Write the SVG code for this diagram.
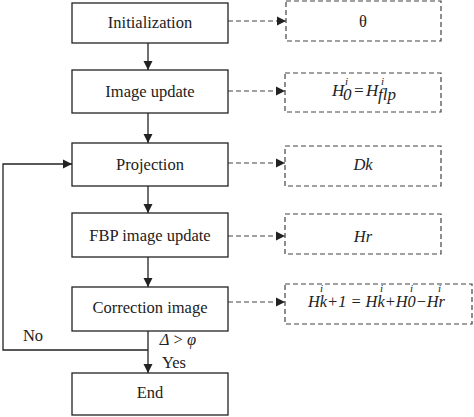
<svg xmlns="http://www.w3.org/2000/svg" width="474" height="417" viewBox="0 0 474 417" font-family="Liberation Serif, serif">
<style>
.box{fill:#fff;stroke:#222;stroke-width:1.3}
.dbox{fill:#fff;stroke:#444;stroke-width:1.2;stroke-dasharray:5 3}
.ln{fill:none;stroke:#222;stroke-width:1.3}
.dl{fill:none;stroke:#444;stroke-width:1.2;stroke-dasharray:5 3}
text{font-family:'Liberation Serif',serif}
.t{font-size:16.5px;fill:#222;text-anchor:middle}
.m{font-style:italic;font-size:17px;fill:#222}
.s{font-style:italic;font-size:11px;fill:#222}
</style>
<defs>
<marker id="ah" markerWidth="10" markerHeight="10" refX="9" refY="5" orient="auto" markerUnits="userSpaceOnUse">
<path d="M0,0.5 L9,5 L0,9.5 Z" fill="#222"/>
</marker>
</defs>
<rect width="474" height="417" fill="#fff"/>
<g id="connectors">
<line class="ln" x1="148" y1="43" x2="148" y2="70" marker-end="url(#ah)"/>
<line class="ln" x1="148" y1="113" x2="148" y2="143" marker-end="url(#ah)"/>
<line class="ln" x1="148" y1="186" x2="148" y2="213" marker-end="url(#ah)"/>
<line class="ln" x1="148" y1="257" x2="148" y2="287" marker-end="url(#ah)"/>
<line class="ln" x1="148" y1="331" x2="148" y2="373" marker-end="url(#ah)"/>
<polyline class="ln" points="148,350 3,350 3,164 72,164" marker-end="url(#ah)"/>
<line class="dl" x1="228" y1="21" x2="286" y2="21" marker-end="url(#ah)"/>
<line class="dl" x1="228" y1="91" x2="285" y2="91" marker-end="url(#ah)"/>
<line class="dl" x1="228" y1="163" x2="285" y2="163" marker-end="url(#ah)"/>
<line class="dl" x1="228" y1="236" x2="285" y2="236" marker-end="url(#ah)"/>
<line class="dl" x1="228" y1="302" x2="285" y2="302" marker-end="url(#ah)"/>
<text class="t" x="33" y="341">No</text>
<text class="t" x="178" y="345"><tspan font-style="italic">Δ</tspan> &gt; <tspan font-style="italic">φ</tspan></text>
<text class="t" x="174" y="368">Yes</text>
</g>
<g id="n-init"><rect class="box" x="72" y="3" width="156" height="40"/><text class="t" x="150" y="28">Initialization</text></g>
<g id="n-imgupd"><rect class="box" x="72" y="70" width="156" height="43"/><text class="t" x="150" y="97">Image update</text></g>
<g id="n-proj"><rect class="box" x="72" y="143" width="156" height="43"/><text class="t" x="150" y="170">Projection</text></g>
<g id="n-fbp"><rect class="box" x="72" y="213" width="156" height="44"/><text class="t" x="150" y="241">FBP image update</text></g>
<g id="n-corr"><rect class="box" x="72" y="287" width="156" height="44"/><text class="t" x="150" y="313">Correction image</text></g>
<g id="n-end"><rect class="box" x="72" y="373" width="156" height="42"/><text class="t" x="150" y="398">End</text></g>
<g id="d-theta"><rect class="dbox" x="286" y="1" width="155" height="40"/><text class="t" x="363" y="27">θ</text></g>
<g id="d-h0"><rect class="dbox" x="285" y="73" width="156" height="39"/>
<text class="m" x="332" y="96">H</text><text class="s" x="345" y="85">i</text><text class="m" x="343" y="100" font-size="14">0</text>
<text class="m" x="353" y="96">=</text>
<text class="m" x="366" y="96">H</text><text class="s" x="381" y="85">i</text><text class="m" x="378" y="100" font-size="14">flp</text>
</g>
<g id="d-dk"><rect class="dbox" x="285" y="146" width="156" height="40"/><text class="t" x="363" y="170" font-style="italic">Dk</text></g>
<g id="d-hr"><rect class="dbox" x="285" y="214" width="156" height="40"/><text class="t" x="363" y="242" font-style="italic">Hr</text></g>
<g id="d-hk"><rect class="dbox" x="285" y="284" width="187" height="40"/>
<text class="m" x="308" y="307" textLength="137" lengthAdjust="spacingAndGlyphs">Hk+1 = Hk+H0−Hr</text>
<text class="s" x="320" y="292">i</text><text class="s" x="380" y="292">i</text><text class="s" x="410" y="292">i</text><text class="s" x="438" y="292">i</text>
</g>
</svg>
